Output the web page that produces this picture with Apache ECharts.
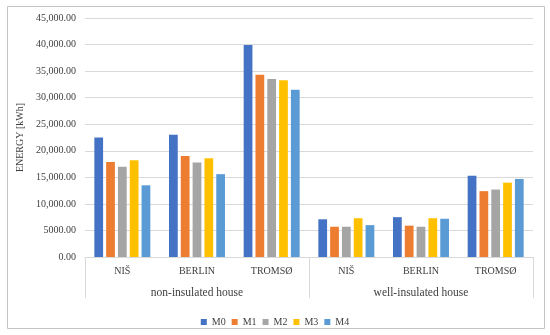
<!DOCTYPE html>
<html>
<head>
<meta charset="utf-8">
<script src="https://cdn.jsdelivr.net/npm/echarts@6/dist/echarts.min.js"></script>
<style>
html,body{margin:0;padding:0;background:#fff;}
#chart{width:550px;height:335px;}
</style>
</head>
<body>
<div id="chart"></div>
<script>
var cities = ['NIŠ', 'BERLIN', 'TROMSØ', 'NIŠ', 'BERLIN', 'TROMSØ'];
var groups = ['non-insulated house', 'well-insulated house'];
var seriesNames = ['M0', 'M1', 'M2', 'M3', 'M4'];
var M0 = [22500, 23000, 39900, 7100, 7500, 15300];
var M1 = [17900, 19000, 34300, 5700, 5900, 12400];
var M2 = [17000, 17800, 33500, 5700, 5700, 12700];
var M3 = [18200, 18600, 33300, 7300, 7300, 14000];
var M4 = [13500, 15600, 31500, 6000, 7200, 14700];
var yTickLabels = ['0.00', '5000.00', '10,000.00', '15,000.00', '20,000.00', '25,000.00', '30,000.00', '35,000.00', '40,000.00', '45,000.00'];
var colors = ['#4472C4', '#ED7D31', '#A5A5A5', '#FFC000', '#5B9BD5'];

var values = [M0, M1, M2, M3, M4];
var font = 'Liberation Serif';
var textColor = '#404040';

var chart = echarts.init(document.getElementById('chart'));
chart.setOption({
  animation: false,
  color: colors,
  textStyle: {fontFamily: font},
  grid: {left: 85, right: 17, top: 18, bottom: 78},
  graphic: [{
    type: 'rect',
    shape: {x: 7.5, y: 6.5, width: 537, height: 322},
    style: {fill: 'none', stroke: '#c4c4c4', lineWidth: 1},
    silent: true
  }],
  legend: {
    data: seriesNames,
    top: 312,
    left: 'center',
    icon: 'rect',
    itemWidth: 6,
    itemHeight: 6,
    itemGap: 6,
    textStyle: {fontFamily: font, fontSize: 10, color: textColor}
  },
  xAxis: [{
    type: 'category',
    data: cities,
    position: 'bottom',
    axisLine: {show: true, lineStyle: {color: '#d9d9d9'}},
    axisTick: {show: false},
    axisLabel: {interval: 0, margin: 9, fontFamily: font, fontSize: 10, color: textColor}
  }, {
    type: 'category',
    data: groups,
    position: 'bottom',
    offset: 0,
    axisLine: {show: false},
    axisTick: {show: true, length: 41, lineStyle: {color: '#d9d9d9'}},
    axisLabel: {interval: 0, margin: 30, fontFamily: font, fontSize: 11.5, color: textColor}
  }],
  yAxis: {
    type: 'value',
    min: 0,
    max: 45000,
    interval: 5000,
    name: 'ENERGY [kWh]',
    nameLocation: 'middle',
    nameGap: 53,
    nameTextStyle: {fontFamily: font, fontSize: 10, color: textColor},
    axisLine: {show: false},
    axisTick: {show: false},
    splitLine: {lineStyle: {color: '#d9d9d9'}},
    axisLabel: {
      margin: 9, fontFamily: font, fontSize: 10, color: textColor,
      formatter: function (v) { return yTickLabels[Math.round(v / 5000)]; }
    }
  },
  series: seriesNames.map(function (n, i) {
    return {
      name: n,
      type: 'bar',
      xAxisIndex: 0,
      data: values[i],
      barGap: '35%',
      barCategoryGap: '25%'
    };
  })
});
</script>
</body>
</html>
